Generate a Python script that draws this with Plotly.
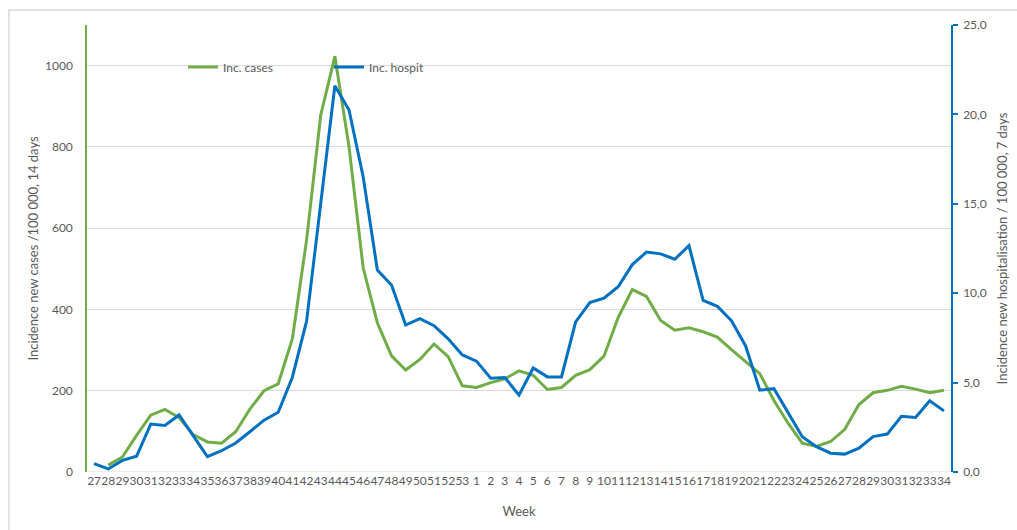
import plotly.graph_objects as go

weeks = [str(w) for w in range(27, 54)] + [str(w) for w in range(1, 35)]

inc_cases = [None, 17, 37, 90, 140, 154, 134, 92, 74, 71, 99, 155, 200, 217,
             328, 570, 878, 1023, 800, 502, 367, 286, 251, 277, 315, 284,
             212, 208, 220, 229, 249, 238, 203, 208, 238, 252, 285, 380,
             449, 432, 373, 349, 355, 345, 332, 301, 272, 242, 176, 120,
             71, 63, 75, 105, 166, 195, 201, 211, 204, 195, 201]

inc_hospit = [0.47, 0.17, 0.65, 0.88, 2.68, 2.6, 3.19, 2.01, 0.86, 1.19, 1.62,
              2.25, 2.9, 3.34, 5.3, 8.42, 14.9, 21.6, 20.25, 16.5, 11.3,
              10.46, 8.22, 8.58, 8.18, 7.45, 6.55, 6.2, 5.24, 5.28, 4.3,
              5.82, 5.32, 5.32, 8.4, 9.48, 9.72, 10.36, 11.6, 12.3, 12.2,
              11.9, 12.66, 9.6, 9.27, 8.46, 7.05, 4.58, 4.66, 3.28, 1.97,
              1.42, 1.05, 1.0, 1.33, 1.98, 2.12, 3.12, 3.05, 3.99, 3.42]

left_ticks = [0, 200, 400, 600, 800, 1000]
right_ticks = [0, 5, 10, 15, 20, 25]
right_ticktext = ["0,0", "5,0", "10,0", "15,0", "20,0", "25,0"]

GREEN = "#70AD47"
BLUE = "#0070C0"
GRAY = "#595959"
FONT = "Lato"

W, H = 1017, 530
L, R, T, B = 87, 66, 25, 58
pw, ph = W - L - R, H - T - B

def px2x(p):
    return (p - L) / pw

def px2y(p):
    return (H - B - p) / ph

idx = list(range(len(weeks)))

fig = go.Figure()
fig.add_trace(go.Scatter(x=idx, y=inc_cases, mode="lines", name="Inc. cases",
                         line=dict(color=GREEN, width=3), yaxis="y"))
fig.add_trace(go.Scatter(x=idx, y=inc_hospit, mode="lines", name="Inc. hospit",
                         line=dict(color=BLUE, width=3), yaxis="y2"))

fig.update_layout(
    width=W, height=H,
    margin=dict(l=L, r=R, t=T, b=B, pad=0, autoexpand=False),
    paper_bgcolor="white", plot_bgcolor="white",
    font=dict(family=FONT, size=12, color=GRAY),
    showlegend=True,
    legend=dict(orientation="h", x=px2x(183), y=px2y(67), xanchor="left", yanchor="middle",
                bgcolor="rgba(0,0,0,0)", font=dict(family=FONT, size=12, color=GRAY),
                entrywidth=101, entrywidthmode="pixels", itemwidth=30,
                tracegroupgap=0),
    xaxis=dict(
        range=[-0.5, len(weeks) - 0.5], automargin=False,
        tickmode="array", tickvals=idx, ticktext=weeks, tickangle=0,
        showgrid=False, zeroline=False, showline=False, ticks="",
        tickfont=dict(family=FONT, size=12, color=GRAY),
        title=dict(text="Week", font=dict(family=FONT, size=13, color=GRAY), standoff=19),
        fixedrange=True,
    ),
    yaxis=dict(
        range=[0, 1100], tickmode="array", tickvals=left_ticks, automargin=False,
        showgrid=True, gridcolor="#D9D9D9", gridwidth=1,
        zeroline=False, showline=True, linecolor=GREEN, linewidth=1.5,
        ticks="", ticklabelstandoff=10,
        tickfont=dict(family=FONT, size=12, color=GRAY),
        title=dict(text="Incidence new cases /100 000, 14 days",
                   font=dict(family=FONT, size=13, color=GRAY), standoff=3),
    ),
    yaxis2=dict(
        range=[0, 25], overlaying="y", side="right", tickmode="array", automargin=False,
        tickvals=right_ticks, ticktext=right_ticktext,
        showgrid=False, zeroline=False, showline=True, linecolor=BLUE, linewidth=1.5,
        ticks="outside", ticklen=5, tickcolor=BLUE, tickwidth=1.5, ticklabelstandoff=3,
        tickfont=dict(family=FONT, size=12, color=GRAY),
        title=dict(text="Incidence new hospitalisation / 100 000, 7 days",
                   font=dict(family=FONT, size=13, color=GRAY), standoff=12),
    ),
    shapes=[
        dict(type="line", xref="paper", yref="y", x0=0, x1=1, y0=0, y1=0,
             line=dict(color="#D9D9D9", width=1), layer="below"),
        dict(type="rect", xref="paper", yref="paper",
             x0=px2x(9), x1=px2x(1030), y0=px2y(10), y1=px2y(545),
             line=dict(color="#D9D9D9", width=1.5), fillcolor="rgba(0,0,0,0)", layer="below"),
    ],
)

fig.write_html("out.html", config={"displayModeBar": False})

with open("out.html", "r", encoding="utf-8") as f:
    html = f.read()
html = html.replace("<body>", '<body style="margin:0;padding:0;overflow:hidden">', 1)
with open("out.html", "w", encoding="utf-8") as f:
    f.write(html)
